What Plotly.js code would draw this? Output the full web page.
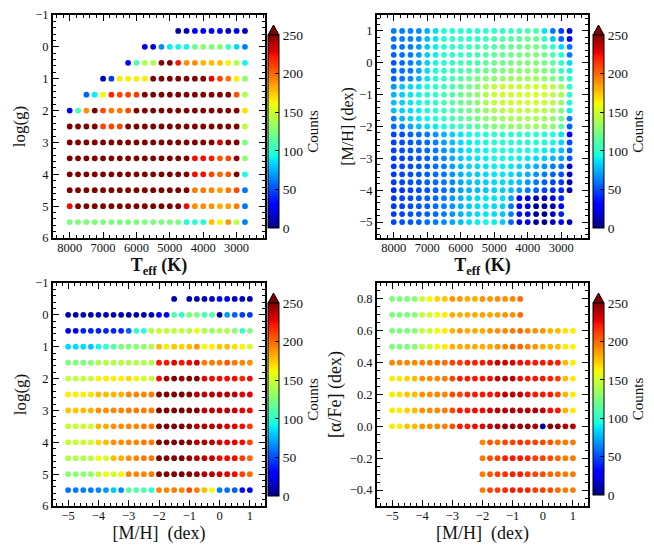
<!DOCTYPE html>
<html>
<head>
<meta charset="utf-8">
<script src="https://cdn.plot.ly/plotly-3.0.1.min.js"></script>
<style>html, body { margin: 0; padding: 0; background: #fff; }</style>
</head>
<body>
<div id="chart" style="width:654px;height:545px"></div>
<script>
const _ = null; // no model at this grid point

// grid axes
const teff = [8000, 7750, 7500, 7250, 7000, 6750, 6500, 6250, 6000, 5750, 5500,
              5250, 5000, 4750, 4500, 4250, 4000, 3750, 3500, 3250, 3000, 2750];
const logg = [-0.5, 0, 0.5, 1, 1.5, 2, 2.5, 3, 3.5, 4, 4.5, 5, 5.5];
const metal = [-5, -4.75, -4.5, -4.25, -4, -3.75, -3.5, -3.25, -3, -2.75, -2.5, -2.25, -2,
               -1.75, -1.5, -1.25, -1, -0.75, -0.5, -0.25, 0, 0.25, 0.5, 0.75, 1];
const metalTopDown = metal.slice().reverse();
const alpha = [0.8, 0.7, 0.6, 0.5, 0.4, 0.3, 0.2, 0.1, 0, -0.1, -0.2, -0.3, -0.4];

// counts, rows = logg (top to bottom), cols = teff
const countsTeffLogg = [
  [_,_,_,_,_,_,_,_,_,_,_,_,_, 8,15,28,30,30,28,15,25,15],
  [_,_,_,_,_,_,_,_,_, 20,22,65,90,92,92,120,128,125,128,105,85,62],
  [_,_,_,_,_,_,_, 30,110,140,140,260,260,222,190,190,180,178,178,165,140,92],
  [_,_,_,_, 15,45,165,165,165,165,260,260,260,260,260,260,260,228,210,195,165,130],
  [_,_, 55,90,162,218,210,210,212,260,260,260,260,260,260,260,260,260,260,260,205,140],
  [30,110,190,260,208,195,195,208,260,260,260,260,260,260,260,260,260,260,260,260,260,168],
  [260,260,260,260,210,210,210,260,260,260,260,260,260,260,260,260,260,260,260,260,260,145],
  [260,260,260,260,260,260,260,260,260,260,260,260,260,260,260,260,260,260,230,260,260,125],
  [260,260,260,260,260,260,260,260,260,260,260,260,260,260,260,225,225,222,205,210,245,130],
  [260,260,260,260,260,260,260,260,260,260,260,260,260,260,260,225,225,210,200,205,250,95],
  [260,260,260,260,260,260,260,260,260,260,260,260,260,260,260,195,195,192,185,195,208,60],
  [225,260,260,260,260,260,260,260,260,260,260,260,260,260,225,190,190,188,182,185,195,60],
  [125,125,125,125,125,125,125,125,125,125,125,125,125,125,98,100,98,178,162,188,145,62]
];

// counts, rows = [M/H] from 1 down to -5, cols = teff
const countsTeffMetal = [
  [62,62,64,66,75,85,95,98,98,98,100,100,100,100,105,108,110,110,88,62,45,18],
  [60,62,64,66,78,88,98,100,100,100,102,105,108,110,112,115,118,118,100,80,55,30],
  [58,60,62,68,80,90,98,100,102,105,108,110,112,115,118,120,122,122,112,100,85,60],
  [55,60,62,70,82,90,98,100,102,105,108,112,115,118,120,122,125,125,120,110,98,62],
  [52,58,62,70,82,92,98,102,105,108,110,115,118,120,122,125,125,125,122,115,100,85],
  [55,60,62,72,85,95,100,105,108,112,115,118,122,125,128,128,130,130,125,118,105,92],
  [55,60,65,75,88,98,102,108,112,118,122,128,130,132,135,135,135,135,130,125,112,100],
  [68,80,85,88,95,100,105,110,115,120,128,138,145,148,148,148,150,150,148,142,135,100],
  [75,82,88,92,98,102,108,112,118,125,130,140,148,150,150,150,152,152,150,145,138,102],
  [78,82,88,92,98,102,108,112,118,122,128,138,145,148,150,150,150,150,148,142,132,95],
  [78,82,85,90,95,100,105,110,115,120,125,132,138,142,145,145,145,145,142,138,125,90],
  [62,75,82,88,92,98,102,108,112,118,122,128,132,135,138,138,138,138,135,130,120,62],
  [58,62,72,80,85,90,95,100,105,110,115,120,125,128,132,132,135,135,132,128,115,55],
  [48,50,54,58,62,68,75,82,88,92,95,98,100,100,100,100,100,100,98,95,88,32],
  [48,50,52,55,58,64,70,78,85,90,92,95,98,98,98,98,98,98,95,92,85,50],
  [48,50,52,55,58,62,68,75,82,88,90,92,95,95,95,95,95,92,90,85,78,55],
  [45,48,50,52,55,60,65,72,80,85,88,90,92,92,92,90,88,85,80,75,70,52],
  [45,48,50,52,55,58,62,70,78,82,85,88,90,90,88,85,80,75,68,62,58,22],
  [45,48,50,52,55,58,60,68,75,80,82,85,88,88,85,80,75,68,62,55,50,12],
  [45,48,50,52,55,58,60,65,72,78,80,82,85,85,82,78,70,62,55,48,45,10],
  [42,45,48,50,52,55,58,62,70,75,78,80,82,82,78,70,62,55,48,42,40,12],
  [45,48,50,52,55,58,62,68,75,80,85,88,88,85,70,30,22,10,10,22,40,_],
  [45,48,50,52,55,58,62,68,75,80,85,88,85,82,60,30,22,5,5,12,28,_],
  [45,48,50,52,55,58,62,68,75,80,85,88,85,80,62,35,25,5,5,18,38,_],
  [48,50,52,55,58,62,65,72,78,85,90,92,90,80,55,30,25,5,3,15,28,8]
];

// counts, rows = logg (top to bottom), cols = [M/H]
const countsMetalLogg = [
  [_,_,_,_,_,_,_,_,_,_,_,_,_,_, 8,_, 10,10,12,18,28,26,18,15,12],
  [10,10,10,10,15,12,10,10,10,10,12,12,28,30,110,100,125,125,108,112,5,70,55,45,45],
  [30,30,38,40,40,40,40,40,55,100,100,142,148,145,145,145,142,158,140,132,140,140,130,105,125],
  [85,85,85,80,92,100,112,125,125,128,130,140,178,165,175,172,178,188,162,165,175,178,168,162,150],
  [125,125,125,128,140,142,142,142,140,140,140,140,222,222,228,222,225,232,195,195,195,205,195,192,190],
  [145,145,145,148,162,165,165,165,170,162,150,148,225,240,252,245,260,260,228,225,225,225,225,218,225],
  [165,165,165,168,178,178,180,180,192,192,192,195,260,260,260,260,250,240,238,238,238,238,238,228,228],
  [175,175,178,180,190,190,192,192,195,195,195,195,260,260,260,250,250,250,238,238,238,238,235,228,225],
  [148,148,148,150,180,182,190,190,192,192,195,195,260,260,252,250,250,240,240,238,238,230,228,225,212],
  [148,148,148,150,172,178,190,190,192,192,195,195,260,260,250,250,250,240,240,238,230,228,228,225,210],
  [140,140,140,142,160,150,178,180,190,192,195,195,260,260,252,252,245,240,238,235,225,225,225,212,200],
  [128,128,128,130,145,160,150,162,192,192,192,195,260,260,252,252,250,245,240,238,232,228,225,210,198],
  [60,62,62,62,65,68,80,65,115,112,112,100,192,192,195,192,208,195,178,160,62,58,55,35,28]
];

// counts, rows = [alpha/Fe] (top to bottom), cols = [M/H]
const countsMetalAlpha = [
  [125,125,125,128,148,162,172,175,188,188,182,182,188,188,190,190,192,198,_,_,_,_,_,_,_],
  [125,125,125,128,145,150,162,165,182,182,182,182,185,185,185,188,190,198,_,_,_,_,_,_,_],
  [125,125,125,128,145,148,162,165,180,188,182,182,182,188,190,192,195,200,192,190,188,180,178,168,165],
  [125,125,125,128,145,148,162,165,180,182,182,182,182,185,188,192,200,200,192,188,182,180,178,165,162],
  [192,192,192,192,195,195,198,198,210,212,218,220,222,225,235,232,230,225,222,222,222,222,220,178,165],
  [165,165,172,178,190,190,192,195,210,220,222,222,222,225,235,240,238,225,222,222,222,220,212,178,165],
  [165,168,175,178,190,190,192,192,208,210,218,222,222,222,225,238,238,235,225,222,222,222,210,180,165],
  [165,165,172,178,190,190,192,195,208,222,222,225,225,232,238,240,240,238,238,240,235,225,222,180,165],
  [165,165,175,178,190,190,192,195,208,222,222,225,228,238,240,245,245,245,245,240,5,248,248,240,238],
  [_,_,_,_,_,_,_,_,_,_,_,_, 192,205,200,208,210,215,210,210,208,205,198,195,195],
  [_,_,_,_,_,_,_,_,_,_,_,_, 195,208,210,220,222,222,218,212,210,208,200,195,195],
  [_,_,_,_,_,_,_,_,_,_,_,_, 195,205,210,215,220,220,212,210,208,200,198,195,195],
  [_,_,_,_,_,_,_,_,_,_,_,_, 195,210,212,218,222,220,218,212,210,208,200,195,195]
];

const W = 654, H = 545;
const FONT = 'Liberation Serif, DejaVu Serif, serif';

// matplotlib "jet" segment data, turned into a plotly colorscale
const jetR = [[0, 0], [0.35, 0], [0.66, 1], [0.89, 1], [1, 0.5]];
const jetG = [[0, 0], [0.125, 0], [0.375, 1], [0.64, 1], [0.91, 0], [1, 0]];
const jetB = [[0, 0.5], [0.11, 1], [0.34, 1], [0.65, 0], [1, 0]];
function seg(s, t) {
  for (let i = 1; i < s.length; i++) {
    if (t <= s[i][0]) {
      const [x0, y0] = s[i - 1], [x1, y1] = s[i];
      return y0 + (y1 - y0) * (t - x0) / (x1 - x0);
    }
  }
  return s[s.length - 1][1];
}
const jetStops = [0, 0.11, 0.125, 0.34, 0.35, 0.375, 0.64, 0.65, 0.66, 0.89, 0.91, 1];
const jet = jetStops.map(t => [t, `rgb(${Math.round(255 * seg(jetR, t))},${Math.round(255 * seg(jetG, t))},${Math.round(255 * seg(jetB, t))})`]);

// panel boxes and colorbars in pixels
const panels = [
  {box: [53, 265, 15, 238], cb: [268, 35, 228]},
  {box: [377, 588, 15, 238], cb: [593, 35, 228]},
  {box: [53, 265, 283, 506], cb: [268, 303, 496]},
  {box: [377, 588, 283, 506], cb: [593, 303, 495]}
];
const CB_W = 11;

function gridTrace(xs, ys, grid, n) {
  const x = [], y = [], c = [];
  grid.forEach((row, r) => row.forEach((v, i) => {
    if (v == null) return;
    x.push(xs[i]); y.push(ys[r]); c.push(v);
  }));
  const cb = panels[n - 1].cb;
  return {
    type: 'scatter', mode: 'markers', x: x, y: y,
    xaxis: n == 1 ? 'x' : 'x' + n, yaxis: n == 1 ? 'y' : 'y' + n,
    hoverinfo: 'skip',
    marker: {
      size: 5.8, color: c, colorscale: jet, cmin: 0, cmax: 250, line: {width: 0},
      showscale: true,
      colorbar: {
        x: cb[0] / W, xanchor: 'left', xpad: 0,
        y: 1 - cb[2] / H, yanchor: 'bottom', ypad: 0,
        lenmode: 'pixels', len: cb[2] - cb[1],
        thicknessmode: 'pixels', thickness: CB_W,
        outlinewidth: 1, outlinecolor: 'black',
        tickmode: 'linear', tick0: 0, dtick: 50,
        ticks: 'inside', ticklen: 4, tickcolor: 'black',
        tickfont: {family: FONT, size: 13.5, color: '#111'},
        title: {text: 'Counts', side: 'right', font: {family: FONT, size: 15, color: '#111'}}
      }
    }
  };
}

const axisBase = {
  showline: true, linewidth: 2, linecolor: 'black', mirror: 'allticks',
  ticks: 'inside', ticklen: 6, tickwidth: 1, tickcolor: 'black',
  showgrid: false, zeroline: false, fixedrange: true,
  tickfont: {family: FONT, size: 12.5, color: '#111'},
  minor: {ticks: 'inside', ticklen: 3, tickwidth: 1, tickcolor: 'black', showgrid: false}
};

function xAxis(n, range, dtick, minor, title, size, standoff) {
  const b = panels[n - 1].box;
  return Object.assign({}, axisBase, {
    domain: [b[0] / W, b[1] / W], range: range, anchor: n == 1 ? 'y' : 'y' + n,
    tickmode: 'linear', tick0: 0, dtick: dtick, ticklabelstandoff: -3,
    minor: Object.assign({}, axisBase.minor, {dtick: minor, tick0: 0}),
    title: {text: title, standoff: standoff, font: {family: FONT, size: size, color: '#111'}}
  });
}
function yAxis(n, range, dtick, minor, title, size, standoff, fmt) {
  const b = panels[n - 1].box;
  return Object.assign({}, axisBase, {
    domain: [1 - b[3] / H, 1 - b[2] / H], range: range, anchor: n == 1 ? 'x' : 'x' + n,
    tickmode: 'linear', tick0: 0, dtick: dtick, tickformat: fmt || '',
    minor: Object.assign({}, axisBase.minor, {dtick: minor, tick0: 0}),
    title: {text: title, standoff: standoff, font: {family: FONT, size: size, color: '#111'}}
  });
}

// extend arrow on top of each colorbar
const shapes = panels.map(p => {
  const [x0, yTop] = p.cb;
  const xl = x0 / W, xr = (x0 + CB_W) / W, xm = (x0 + CB_W / 2) / W;
  const yb = 1 - yTop / H, yt = 1 - (yTop - 10) / H;
  return {
    type: 'path', xref: 'paper', yref: 'paper',
    path: `M ${xl} ${yb} L ${xm} ${yt} L ${xr} ${yb} Z`,
    fillcolor: 'rgb(128,0,0)', line: {color: 'black', width: 1}
  };
});

const teffTitle = '<b>T<sub>eff</sub> (K)</b>';
const metalTitle = '[M/H]\u00a0\u00a0(dex)';

const data = [
  gridTrace(teff, logg, countsTeffLogg, 1),
  gridTrace(teff, metalTopDown, countsTeffMetal, 2),
  gridTrace(metal, logg, countsMetalLogg, 3),
  gridTrace(metal, alpha, countsMetalAlpha, 4)
];

const layout = {
  width: W, height: H,
  margin: {l: 0, r: 0, t: 0, b: 0, autoexpand: false},
  paper_bgcolor: 'white', plot_bgcolor: 'white',
  showlegend: false,
  font: {family: FONT, color: '#111'},
  xaxis: xAxis(1, [8500, 2150], 1000, 200, teffTitle, 18, 2),
  yaxis: yAxis(1, [6, -1], 1, 0.2, 'log(g)', 17, 5),
  xaxis2: xAxis(2, [8500, 2200], 1000, 200, teffTitle, 18, 2),
  yaxis2: yAxis(2, [-5.5, 1.5], 1, 0.2, '[M/H] (dex)', 16, 2),
  xaxis3: xAxis(3, [-5.5, 1.5], 1, 0.2, metalTitle, 18, 3),
  yaxis3: yAxis(3, [6, -1], 1, 0.2, 'log(g)', 17, 4),
  xaxis4: xAxis(4, [-5.5, 1.5], 1, 0.2, metalTitle, 18, 3),
  yaxis4: yAxis(4, [-0.5, 0.9], 0.2, 0.05, '[\u03b1/Fe]\u00a0(dex)', 18, 4, '.1f'),
  shapes: shapes
};

Plotly.newPlot('chart', data, layout, {staticPlot: true, displayModeBar: false});
</script>
</body>
</html>
